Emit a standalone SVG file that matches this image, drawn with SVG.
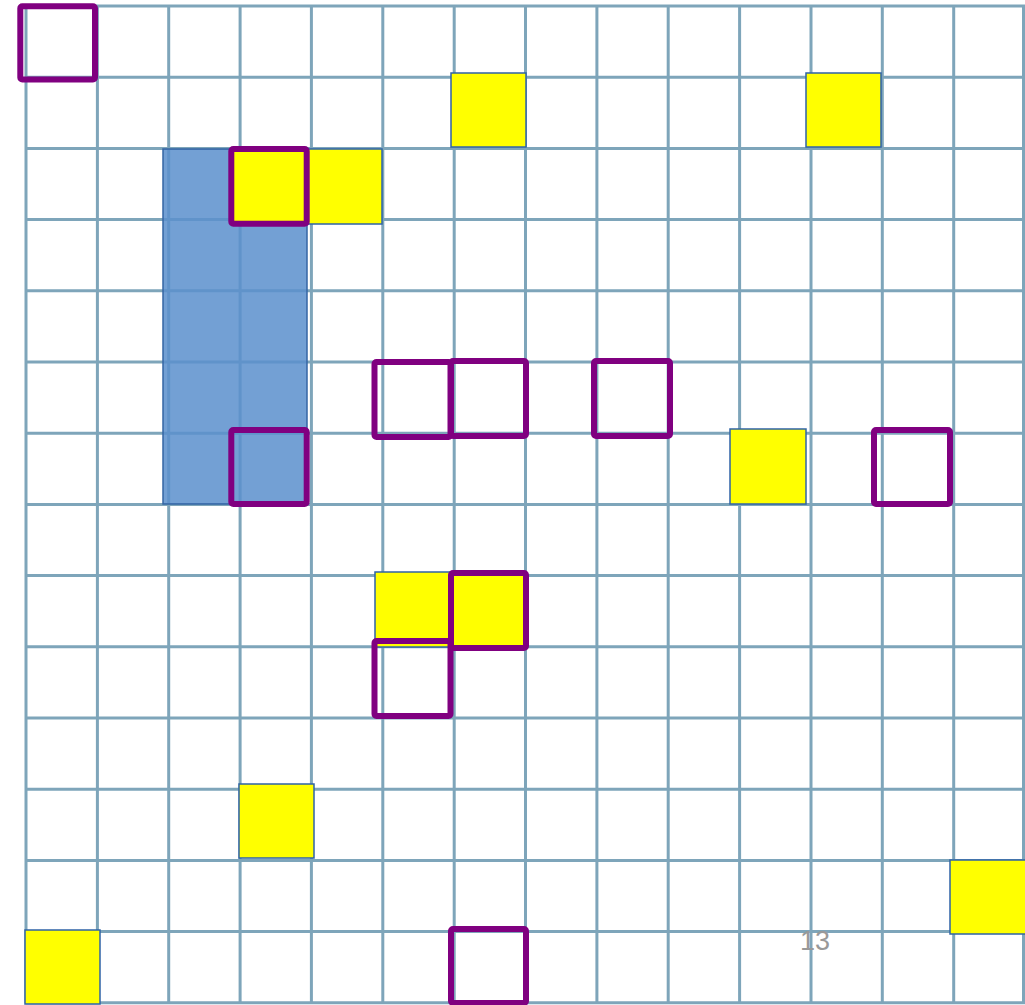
<svg xmlns="http://www.w3.org/2000/svg" width="1025" height="1005" viewBox="0 0 1025 1005">
<style>
.grid{stroke:#7ea5ba;stroke-width:3;fill:none}
.blue{fill:#5b8fcc;fill-opacity:0.85;stroke:#3465a4;stroke-width:1.5}
.yel{fill:#ffff00;stroke:#2f63a6;stroke-width:1.5}
.pur{fill:none;stroke:#800080;stroke-width:6;stroke-linejoin:round}
.lbl{font-family:"Liberation Sans",Arial,sans-serif;font-size:27px;fill:#999999}
</style>
<rect width="1025" height="1005" fill="#ffffff"/>
<g id="grid" class="grid">
<path d="M26,6V1003M97.4,6V1003M168.7,6V1003M240.1,6V1003M311.4,6V1003M382.8,6V1003M454.2,6V1003M525.5,6V1003M596.9,6V1003M668.2,6V1003M739.6,6V1003M811,6V1003M882.3,6V1003M953.7,6V1003M1023.5,6V1003"/>
<path d="M26,6H1025M26,77.2H1025M26,148.4H1025M26,219.6H1025M26,290.8H1025M26,362H1025M26,433.2H1025M26,504.4H1025M26,575.6H1025M26,646.8H1025M26,718H1025M26,789.2H1025M26,860.4H1025M26,931.6H1025M26,1002.8H1025"/>
</g>
<g id="block">
<rect class="blue" x="163" y="149" width="144" height="355"/>
</g>
<g id="yellow">
<rect class="yel" x="451" y="73" width="75" height="74"/>
<rect class="yel" x="806" y="73" width="75" height="74"/>
<rect class="yel" x="308" y="149" width="74" height="75"/>
<rect class="yel" x="231" y="149" width="76" height="75"/>
<rect class="yel" x="730" y="429" width="76" height="75"/>
<rect class="yel" x="375" y="572" width="75" height="75"/>
<rect class="yel" x="450" y="573" width="76" height="75"/>
<rect class="yel" x="239" y="784" width="75" height="74"/>
<rect class="yel" x="950" y="860" width="76" height="74"/>
<rect class="yel" x="25" y="930" width="75" height="74"/>
</g>
<g id="purple">
<rect class="pur" x="20.3" y="6.3" width="74.7" height="73.2" rx="2"/>
<rect class="pur" x="231.3" y="149" width="75.4" height="74.7" rx="2"/>
<rect class="pur" x="374.5" y="362" width="76" height="75" rx="2"/>
<rect class="pur" x="451" y="361" width="75" height="75" rx="2"/>
<rect class="pur" x="594" y="361" width="76" height="75" rx="2"/>
<rect class="pur" x="231.3" y="430" width="75.4" height="74" rx="2"/>
<rect class="pur" x="874" y="430" width="76" height="74" rx="2"/>
<rect class="pur" x="451" y="573" width="75" height="75" rx="2"/>
<rect class="pur" x="374.5" y="641" width="76" height="75" rx="2"/>
<rect class="pur" x="451" y="929" width="75" height="74" rx="2"/>
</g>
<g id="label">
<text class="lbl" x="815" y="950" text-anchor="middle">13</text>
</g>
</svg>
